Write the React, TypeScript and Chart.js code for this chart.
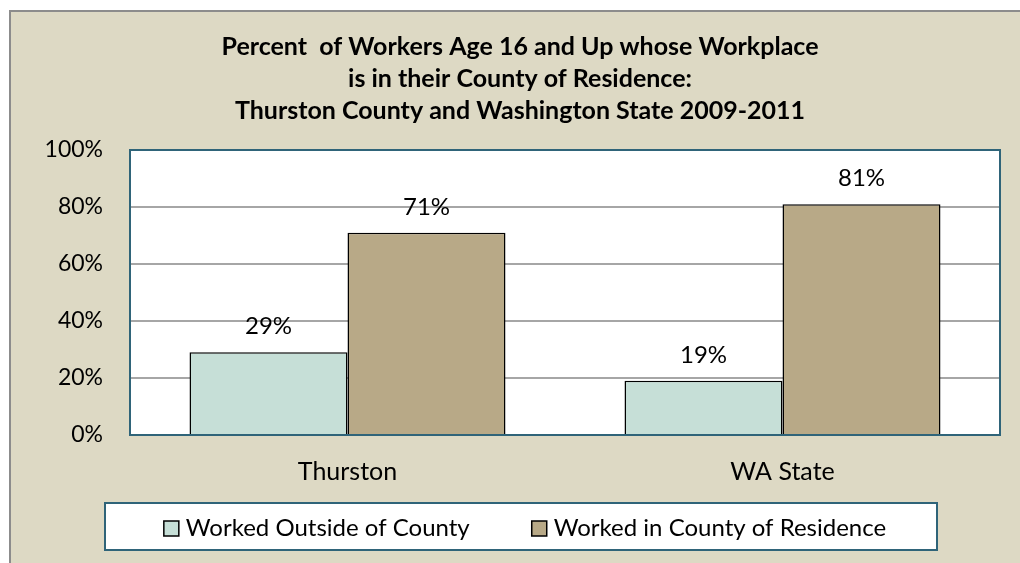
import React, { useEffect, useRef } from "react";
import { Chart, registerables } from "chart.js";

Chart.register(...registerables);

const categories = ["Thurston", "WA State"];
const seriesNames = ["Worked Outside of County", "Worked in County of Residence"];
const workedOutside = [29, 19];
const workedInCounty = [71, 81];
const titleLines = [
  "Percent  of Workers Age 16 and Up whose Workplace",
  "is in their County of Residence:",
  "Thurston County and Washington State 2009-2011",
];
const yMin = 0;
const yMax = 100;
const yStep = 20;

const FONT = "Lato, 'Open Sans', 'DejaVu Sans', sans-serif";
const COLOR_OUTSIDE = "#C6DFD7";
const COLOR_IN = "#B8A987";
const FRAME_TEAL = "#2F6479";
const BG = "#DDD9C4";

const plotAreaPlugin = {
  id: "plotArea",
  beforeDraw(chart: any) {
    const { ctx, chartArea: a } = chart;
    ctx.save();
    ctx.fillStyle = "#FFFFFF";
    ctx.fillRect(a.left, a.top, a.right - a.left, a.bottom - a.top);
    ctx.restore();
  },
  afterDatasetsDraw(chart: any) {
    const { ctx, chartArea: a } = chart;
    ctx.save();
    ctx.strokeStyle = FRAME_TEAL;
    ctx.lineWidth = 2;
    ctx.strokeRect(a.left, a.top, a.right - a.left, a.bottom - a.top);
    ctx.restore();
  },
};

const dataLabelPlugin = {
  id: "dataLabels",
  afterDatasetsDraw(chart: any) {
    const { ctx } = chart;
    ctx.save();
    ctx.font = `24px ${FONT}`;
    ctx.fillStyle = "#000000";
    ctx.textAlign = "center";
    ctx.textBaseline = "alphabetic";
    chart.data.datasets.forEach((ds: any, di: number) => {
      const meta = chart.getDatasetMeta(di);
      meta.data.forEach((bar: any, i: number) => {
        ctx.fillText(`${ds.data[i]}%`, bar.x, bar.y - 18);
      });
    });
    ctx.restore();
  },
};

const boxLegendPlugin = {
  id: "boxLegend",
  afterDraw(chart: any) {
    const { ctx, chartArea: a } = chart;
    const top = chart.scales.x.bottom;
    const bottom = chart.height - 13;
    const left = a.left - 25;
    const right = a.right - 63;
    ctx.save();
    ctx.fillStyle = "#FFFFFF";
    ctx.fillRect(left, top, right - left, bottom - top);
    ctx.strokeStyle = FRAME_TEAL;
    ctx.lineWidth = 2;
    ctx.strokeRect(left, top, right - left, bottom - top);

    ctx.font = `24px ${FONT}`;
    const box = 15;
    const gapBoxText = 7;
    const gapItems = 62;
    const widths = chart.data.datasets.map((ds: any) => box + gapBoxText + ctx.measureText(ds.label).width);
    const total = widths.reduce((s: number, w: number) => s + w, 0) + gapItems * (widths.length - 1);
    let x = (left + right) / 2 + 4 - total / 2;
    const cy = (top + bottom) / 2 + 2;
    chart.data.datasets.forEach((ds: any, i: number) => {
      ctx.fillStyle = ds.backgroundColor;
      ctx.fillRect(x, cy - box / 2, box, box);
      ctx.strokeStyle = "#000000";
      ctx.lineWidth = 1.5;
      ctx.strokeRect(x, cy - box / 2, box, box);
      ctx.fillStyle = "#000000";
      ctx.textAlign = "left";
      ctx.textBaseline = "middle";
      ctx.fillText(ds.label, x + box + gapBoxText, cy);
      x += widths[i] + gapItems;
    });
    ctx.restore();
  },
};

function ChartView() {
  const canvasRef = useRef<HTMLCanvasElement | null>(null);

  useEffect(() => {
    if (!canvasRef.current) return;
    const chart = new Chart(canvasRef.current, {
      type: "bar",
      data: {
        labels: categories,
        datasets: [
          {
            label: seriesNames[0],
            data: workedOutside,
            backgroundColor: COLOR_OUTSIDE,
            borderColor: "#000000",
            borderWidth: 1.5,
            categoryPercentage: 0.7264,
            barPercentage: 1,
          },
          {
            label: seriesNames[1],
            data: workedInCounty,
            backgroundColor: COLOR_IN,
            borderColor: "#000000",
            borderWidth: 1.5,
            categoryPercentage: 0.7264,
            barPercentage: 1,
          },
        ],
      },
      options: {
        animation: false,
        responsive: false,
        maintainAspectRatio: false,
        layout: { padding: { left: 40, right: 20, top: 0, bottom: 60 } },
        plugins: {
          legend: { display: false },
          tooltip: { enabled: false },
          title: {
            display: true,
            text: titleLines,
            color: "#000000",
            font: { family: FONT, size: 25, weight: "bold", lineHeight: 32 / 25 },
            padding: { top: 31, bottom: 23 },
          },
        },
        scales: {
          x: {
            grid: { display: false, drawTicks: false },
            border: { display: false },
            ticks: { color: "#000000", font: { family: FONT, size: 25 }, padding: 22 },
            afterFit(scale: any) {
              scale.height = 68;
            },
          },
          y: {
            min: yMin,
            max: yMax,
            grid: { color: "#A6A6A6", lineWidth: 2, drawTicks: false },
            border: { display: false },
            ticks: {
              stepSize: yStep,
              color: "#000000",
              font: { family: FONT, size: 23 },
              padding: 27,
              callback: (v: any) => `${v}%`,
            },
            afterFit(scale: any) {
              scale.width = 90;
            },
          },
        },
      },
      plugins: [plotAreaPlugin, dataLabelPlugin, boxLegendPlugin],
    });
    return () => chart.destroy();
  }, []);

  return <canvas ref={canvasRef} width={1020} height={563} style={{ position: "absolute", left: 0, top: 0 }} />;
}

export default function App() {
  return (
    <div
      style={{
        position: "fixed",
        left: 0,
        top: 0,
        width: 1020,
        height: 563,
        overflow: "hidden",
        background: "#FFFFFF",
      }}
    >
      <div
        style={{
          position: "absolute",
          left: 9,
          top: 10,
          width: 1100,
          height: 700,
          background: BG,
          borderLeft: "2px solid #8C8C8C",
          borderTop: "2px solid #8C8C8C",
        }}
      />
      <ChartView />
    </div>
  );
}
